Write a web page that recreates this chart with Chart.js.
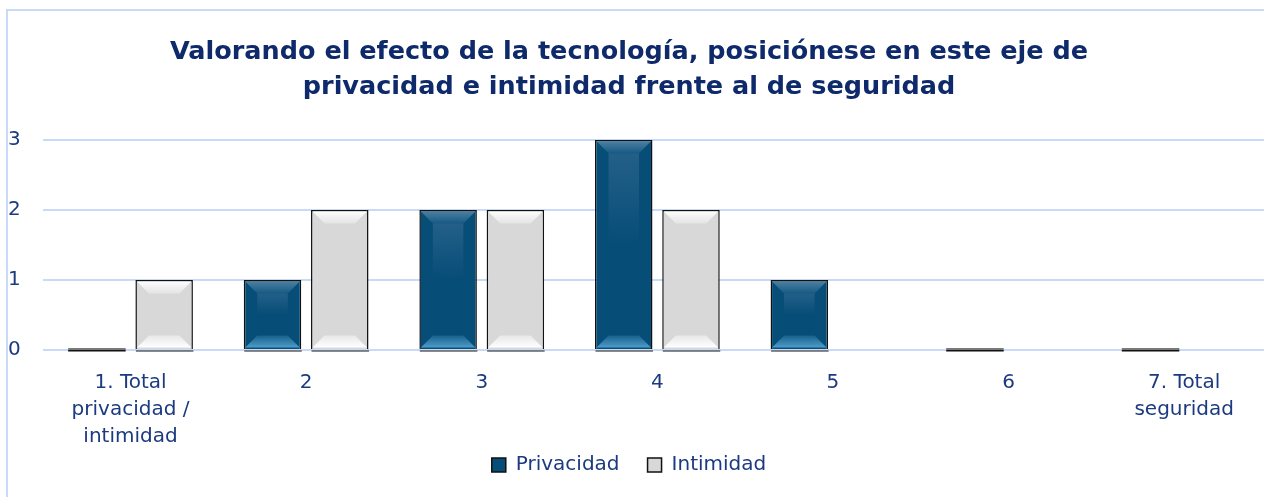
<!DOCTYPE html>
<html>
<head>
<meta charset="utf-8">
<script src="https://cdn.jsdelivr.net/npm/chart.js@4.4.1/dist/chart.umd.min.js"></script>
<style>
  html, body { margin: 0; padding: 0; background: #fff; overflow: hidden; }
  #box {
    position: absolute; left: 6px; top: 9px;
    width: 1300px; height: 520px;
    border: 2px solid #c9daf8; background: #fff; overflow: hidden;
  }
  #wrap { position: absolute; left: -22px; top: 0; width: 1286px; height: 476px; }
</style>
</head>
<body>
<div id="box"><div id="wrap"><canvas id="chart"></canvas></div></div>
<script>
// categories and values
const categories = [['1. Total', 'privacidad /', 'intimidad'], '2', '3', '4', '5', '6', ['7. Total', 'seguridad']];
const privacidad = [0, 1, 2, 3, 1, 0, 0];
const intimidad = [1, 2, 2, 2, null, null, null];
const yTicks = [0, 1, 2, 3];

const navy = '#1b3a80';
const fontFamily = '"DejaVu Sans", "Noto Sans", sans-serif';

// draws the bevel look on top of each bar
const bevelPlugin = {
    id: 'bevel',
    afterDatasetsDraw(chart) {
        const c = chart.ctx;
        chart.data.datasets.forEach((ds, di) => {
            const meta = chart.getDatasetMeta(di);
            meta.data.forEach((bar, i) => {
                if (ds.data[i] === null) return;
                const p = bar.getProps(['x', 'y', 'base', 'width'], true);
                const l = p.x - p.width / 2 + 1.5, r = p.x + p.width / 2 - 1.5;
                const t = Math.min(p.y, p.base) + 1.5, b = Math.max(p.y, p.base) - 1.5;
                const h = b - t;
                c.save();
                if (ds.data[i] === 0) {
                    // zero value: thin gray/black line on the axis
                    c.fillStyle = '#7a7a7a';
                    c.fillRect(l - 1.5, p.base - 2, r - l + 3, 2);
                    c.fillStyle = '#111';
                    c.fillRect(l - 1.5, p.base, r - l + 3, 1.5);
                    c.restore();
                    return;
                }
                // drop shadow under the bar
                c.fillStyle = 'rgba(60,60,60,0.6)';
                c.fillRect(l - 1, Math.max(p.y, p.base) + 1, r - l + 3, 2);
                const bv = Math.min(12, h / 3);
                const dark = di === 0;
                // top bevel
                let g = c.createLinearGradient(0, t, 0, t + bv);
                g.addColorStop(0, dark ? 'rgba(120,160,190,0.6)' : 'rgba(255,255,255,0.95)');
                g.addColorStop(1, dark ? 'rgba(120,160,190,0.15)' : 'rgba(255,255,255,0.3)');
                c.fillStyle = g;
                c.beginPath();
                c.moveTo(l, t); c.lineTo(r, t); c.lineTo(r - bv, t + bv); c.lineTo(l + bv, t + bv);
                c.closePath(); c.fill();
                // bottom bevel
                g = c.createLinearGradient(0, b - bv, 0, b);
                g.addColorStop(0, dark ? 'rgba(90,170,215,0.2)' : 'rgba(255,255,255,0.4)');
                g.addColorStop(1, dark ? 'rgba(90,170,215,0.85)' : 'rgba(255,255,255,1)');
                c.fillStyle = g;
                c.beginPath();
                c.moveTo(l, b); c.lineTo(r, b); c.lineTo(r - bv, b - bv); c.lineTo(l + bv, b - bv);
                c.closePath(); c.fill();
                // body shading for the dark series
                if (dark) {
                    g = c.createLinearGradient(0, t + bv, 0, b - bv);
                    g.addColorStop(0, 'rgba(90,130,165,0.35)');
                    g.addColorStop(0.5, 'rgba(90,130,165,0)');
                    c.fillStyle = g;
                    c.fillRect(l + bv, t + bv, r - l - 2 * bv, h - 2 * bv);
                }
                c.restore();
            });
        });
    }
};

const ctx = document.getElementById('chart');
new Chart(ctx, {
    type: 'bar',
    data: {
        labels: categories,
        datasets: [{
            label: 'Privacidad',
            data: privacidad,
            backgroundColor: '#064d78',
            borderColor: '#111',
            borderWidth: 1.5,
            categoryPercentage: 0.766,
            barPercentage: 0.855
        }, {
            label: 'Intimidad',
            data: intimidad,
            backgroundColor: '#d9d8d8',
            borderColor: '#111',
            borderWidth: 1.5,
            categoryPercentage: 0.766,
            barPercentage: 0.855
        }]
    },
    options: {
        responsive: true,
        maintainAspectRatio: false,
        animation: false,
        layout: { padding: { left: 0, right: 0, top: 10, bottom: 2 } },
        plugins: {
            title: {
                display: true,
                text: ['Valorando el efecto de la tecnología, posiciónese en este eje de',
                       'privacidad e intimidad frente al de seguridad'],
                color: '#0e2a6b',
                font: { family: fontFamily, size: 25.5, weight: 'bold', lineHeight: 1.37 },
                padding: { top: 14, bottom: 35 }
            },
            legend: {
                position: 'bottom',
                labels: {
                    color: navy,
                    font: { family: fontFamily, size: 20 },
                    boxWidth: 14,
                    boxHeight: 14,
                    padding: 8,
                    // a little extra room between the two items
                    generateLabels: chart => {
                        const items = Chart.defaults.plugins.legend.labels.generateLabels(chart);
                        items[0].text += '\u2003';
                        return items;
                    }
                }
            },
            tooltip: { enabled: false }
        },
        scales: {
            x: {
                grid: { display: false },
                border: { display: false },
                afterFit: axis => { axis.height = 97; },
                ticks: {
                    color: navy,
                    font: { family: fontFamily, size: 20, lineHeight: 1.35 },
                    padding: 11,
                    maxRotation: 0
                }
            },
            y: {
                min: 0,
                max: 3,
                afterBuildTicks: axis => { axis.ticks = yTicks.map(v => ({ value: v })); },
                grid: { color: '#c9daf8', lineWidth: 2, drawTicks: false },
                border: { display: false },
                ticks: {
                    color: navy,
                    font: { family: fontFamily, size: 20 },
                    padding: 22
                }
            }
        }
    },
    plugins: [bevelPlugin]
});
</script>
</body>
</html>
